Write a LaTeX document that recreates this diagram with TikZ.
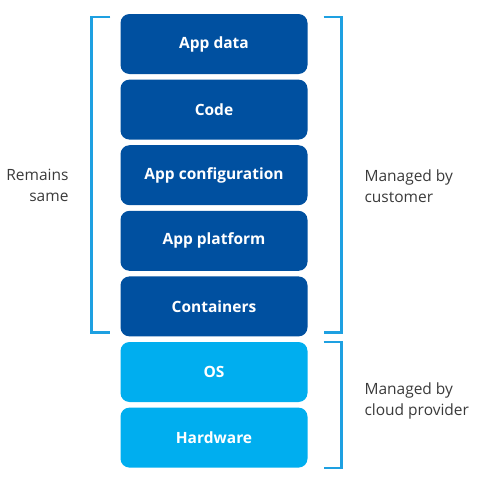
\documentclass[tikz,border=0pt]{standalone}
\usepackage{fontspec}
\setmainfont{Open Sans}
\usepackage{tikz}

\definecolor{darkblue}{RGB}{0,80,160}
\definecolor{lightblue}{RGB}{0,174,239}
\definecolor{bracketblue}{RGB}{30,160,225}
\definecolor{labelgray}{RGB}{58,58,58}

\begin{document}
\begin{tikzpicture}[x=1pt,y=-1pt,
    box/.style={rounded corners=9pt,minimum width=187pt,minimum height=60pt,
        text=white,font=\fontsize{15.5}{18}\selectfont\bfseries},
    bracket/.style={draw=bracketblue,line width=2.6pt},
    sidelabel/.style={text=labelgray,font=\fontsize{15.5}{21}\selectfont}]
            \useasboundingbox (0,0) rectangle (483,479);
            \foreach \i/\name/\txt/\col in {0/data/App data/darkblue,1/code/Code/darkblue,
                2/config/App configuration/darkblue,3/platform/App platform/darkblue,
                4/containers/Containers/darkblue,5/os/OS/lightblue,6/hardware/Hardware/lightblue}
                \node[box,fill=\col] (\name) at (214,44+65.6*\i) {\txt};
            \draw[bracket] ([xshift=-10pt,yshift=-3pt]data.north west) -- ++(-19,0)
                |- ([xshift=-10pt,yshift=4pt]containers.south west);
            \draw[bracket] ([xshift=16pt,yshift=-3pt]data.north east) -- ++(18,0)
                |- ([xshift=16pt,yshift=4pt]containers.south east);
            \draw[bracket] ([xshift=16pt]os.north east) -- ++(18,0)
                |- ([xshift=16pt]hardware.south east);
            \node[sidelabel,anchor=east,align=right] (same) at (72,185) {Remains\\same};
            \node[sidelabel,anchor=west,align=left] (customer) at (361,186) {Managed by\\customer};
            \node[sidelabel,anchor=west,align=left] (provider) at (361,401) {Managed by\\cloud provider};
        \end{tikzpicture}
\end{document}
